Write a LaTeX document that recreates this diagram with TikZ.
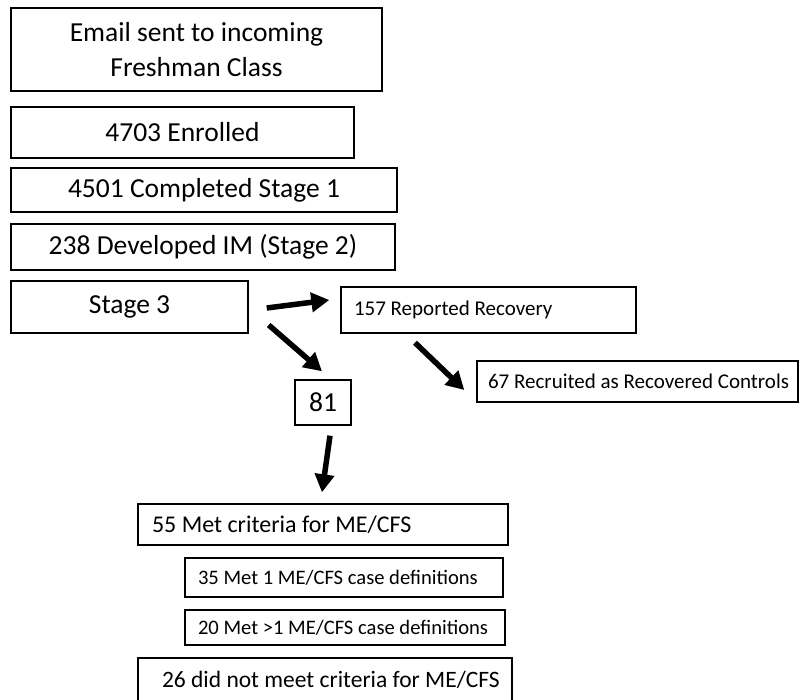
\documentclass[tikz,border=0pt]{standalone}
\usepackage{fontspec}
\setmainfont{Carlito}
\usetikzlibrary{arrows.meta}

\begin{document}
\begin{tikzpicture}[
    x=1pt,
    y=-1pt,
    box/.style={draw,line width=1.4pt,inner ysep=0pt,inner xsep=0pt,
        align=center,font=\fontsize{27.5}{35}\selectfont},
    midbox/.style={box,align=flush left,font=\fontsize{24}{28}\selectfont},
    smallbox/.style={box,align=flush left,font=\fontsize{21}{24}\selectfont},
    bigarrow/.style={-{Triangle[length=18pt,width=19pt]},line width=5.5pt}
]

\useasboundingbox (0,0) rectangle (800,699);

%------------------------------------------------------------
% Main column
%------------------------------------------------------------

\node[box,minimum width=371pt,minimum height=83pt]
(email) at (196.5,49.5)
{Email sent to incoming\\Freshman Class};

\node[box,minimum width=343pt,minimum height=51pt]
(enrolled) at (182.5,132.5)
{4703 Enrolled};

\node[box,minimum width=386pt,minimum height=44pt]
(stageone) at (204,190)
{4501 Completed Stage 1};

\node[box,minimum width=384pt,minimum height=46pt]
(stagetwo) at (203,247)
{238 Developed IM (Stage 2)};

\node[box,minimum width=237pt,minimum height=52pt]
(stage) at (129.5,307)
{Stage 3};

%------------------------------------------------------------
% Recovery branch
%------------------------------------------------------------

\node[smallbox,inner xsep=13pt,text width=269pt,minimum height=46pt]
(rec) at (488.5,310)
{157 Reported Recovery};

\node[smallbox,inner xsep=11pt,text width=299pt,minimum height=41pt]
(ctrl) at (637.5,381.5)
{\mbox{67 Recruited as Recovered Controls}};

%------------------------------------------------------------
% Case branch
%------------------------------------------------------------

\node[box,minimum width=56pt,minimum height=45pt]
(n81) at (323,402.5)
{81};

\node[midbox,inner xsep=14pt,text width=342pt,minimum height=41pt]
(met) at (323,524.5)
{55 Met criteria for ME/CFS};

\node[smallbox,font=\fontsize{20.6}{24}\selectfont,
    inner xsep=13pt,text width=292pt,minimum height=39pt]
(metone) at (344,577.5)
{\mbox{35 Met 1 ME/CFS case definitions}};

\node[smallbox,font=\fontsize{20.6}{24}\selectfont,
    inner xsep=13pt,text width=294pt,minimum height=35pt]
(metmore) at (345,627.5)
{\mbox{20 Met >1 ME/CFS case definitions}};

\node[midbox,font=\fontsize{23.5}{28}\selectfont,
    inner xsep=24pt,text width=326pt,minimum height=44pt]
(notmet) at (325,680)
{\mbox{26 did not meet criteria for ME/CFS}};

%------------------------------------------------------------
% Arrows
%------------------------------------------------------------

\draw[bigarrow]
([xshift=18pt,yshift=-1pt]stage.east)--([xshift=-11pt,yshift=10pt]rec.west);

\draw[bigarrow]
([xshift=20pt,yshift=-18pt]stage.east)--([xshift=-1pt,yshift=8pt]n81.north);

\draw[bigarrow]
([xshift=7pt,yshift=-10pt]n81.south)--([xshift=-1pt,yshift=11pt]met.north);

\draw[bigarrow]
([xshift=-73.5pt,yshift=-9pt]rec.south)--([xshift=-12pt,yshift=-8.5pt]ctrl.west);

\end{tikzpicture}
\end{document}
